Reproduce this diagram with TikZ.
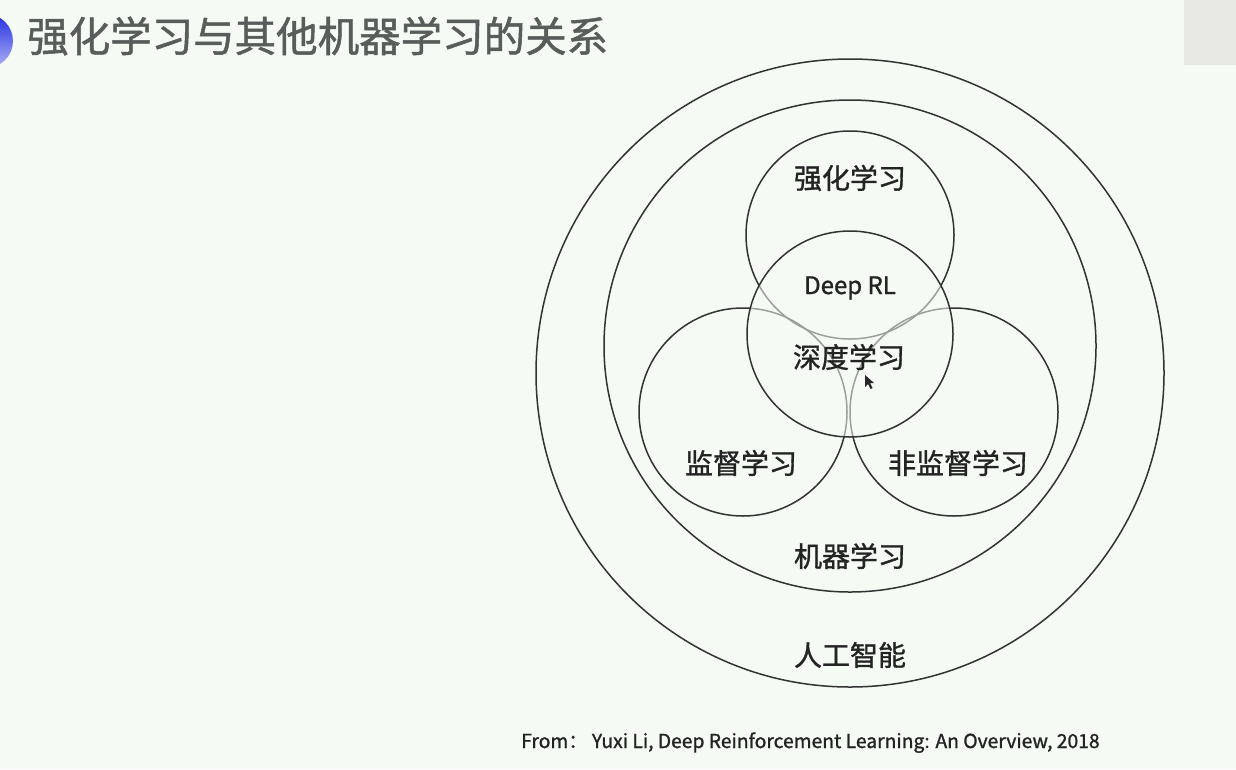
\documentclass[tikz,border=0pt]{standalone}
\usepackage{fontspec}
\setmainfont{Noto Sans CJK SC}
\newfontfamily\heavier{Noto Sans CJK SC}[FakeBold=1.2]
\definecolor{bg}{RGB}{245,250,245}
\definecolor{ink}{RGB}{35,35,35}
\definecolor{ring}{RGB}{50,50,50}
\definecolor{titlegray}{RGB}{88,92,90}
\definecolor{panelgray}{RGB}{232,233,229}
\begin{document}
\begin{tikzpicture}[x=1pt,y=-1pt,
  circ/.style={circle,draw=ring,line width=1.5pt,inner sep=0pt},
  lbl/.style={text=ink,font=\heavier\fontsize{28pt}{30pt}\selectfont,inner sep=0pt},
  ttl/.style={text=titlegray,font=\heavier\fontsize{41.5pt}{44pt}\selectfont,inner sep=0pt,anchor=west}]
  % page and background
  \fill[bg] (0,0) rectangle (1236,769);
  \useasboundingbox (0,0) rectangle (1236,769);
  % header decorations
  \begin{scope}
    \clip (0,0) rectangle (1236,769);
    \shade[top color={rgb,255:red,35;green,45;blue,225},bottom color={rgb,255:red,175;green,180;blue,245}]
      (-14,41) circle[radius=27pt];
    \fill[panelgray] (1184,0) rectangle (1236,65);
  \end{scope}
  \node[ttl] (title) at (27,36) {强化学习与其他机器学习的关系};

  % nested fields
  \node[circ,minimum size=628pt] (ai) at (850,373) {};
  \node[circ,minimum size=492pt] (ml) at (850,346) {};
  \node[circ,minimum size=208pt] (rl) at (850,235) {};
  \node[circ,minimum size=208pt] (sl) at (743,412) {};
  \node[circ,minimum size=208pt] (ul) at (954,412) {};
  % deep learning sits on top and softens the arcs behind it
  \node[circ,minimum size=206pt,fill=bg,fill opacity=0.55] (dl) at (850,334) {};

  % labels
  \node[lbl] (tRL) at (850,178) {强化学习};
  \node[lbl,font=\heavier\fontsize{24pt}{26pt}\selectfont,anchor=base] (tDRL) at (850,294) {Deep RL};
  \node[lbl] (tDL) at (849,357) {深度学习};
  \node[lbl] (tSL) at (741,463) {监督学习};
  \node[lbl] (tUL) at (958,463) {非监督学习};
  \node[lbl] (tML) at (850,556) {机器学习};
  \node[lbl] (tAI) at (850,655) {人工智能};

  % source line
  \node[text=ink,font=\heavier\fontsize{19.3pt}{21pt}\selectfont,inner sep=0pt,anchor=base west] (src)
    at (521,748) {From：~Yuxi Li, Deep Reinforcement Learning: An Overview, 2018};

  % mouse pointer
  \fill[black!85] (865,375) -- (865,387) -- (868,384) -- (870.5,389) -- (872.5,388) -- (870,383) -- (874,383) -- cycle;
\end{tikzpicture}
\end{document}
